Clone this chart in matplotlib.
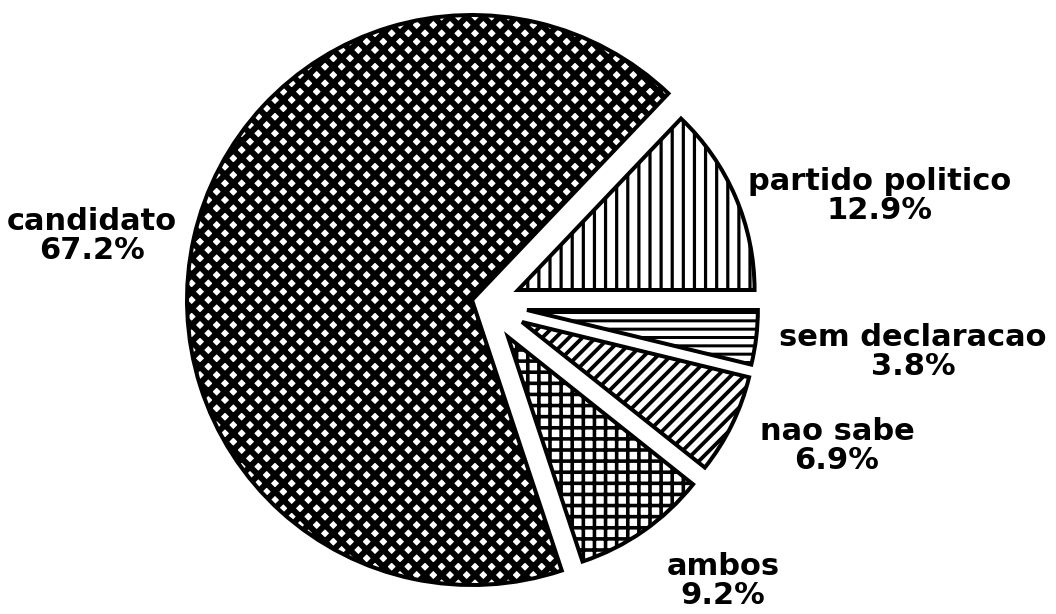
import matplotlib
matplotlib.use('Agg')
import matplotlib.pyplot as plt

# ---- data ----
categories = ['partido politico', 'candidato', 'ambos', 'nao sabe', 'sem declaracao']
shares = [12.9, 67.2, 9.2, 6.9, 3.8]
pct_labels = ['12.9%', '67.2%', '9.2%', '6.9%', '3.8%']

# ---- style ----
DPI = 200
W, H = 1056, 614
PX = 72.0 / DPI  # points per pixel

plt.rcParams['font.family'] = ['DejaVu Sans']
plt.rcParams['hatch.linewidth'] = 4 * PX

fig = plt.figure(figsize=(W / DPI, H / DPI), dpi=DPI)
fig.patch.set_facecolor('white')
ax = fig.add_axes([0, 0, 1, 1])

center = (472, 314)
radius = 285
hatches = ['|||', 'xxxx', '+++', '/////', '----']
hatch_lw_px = [3.2, 6.0, 3.6, 3.8, 3.0]
shift = [(46, 10), (0, 0), (36, -37), (50, -22), (55, -10)]
rscale = [0.83, 1.0, 0.83, 0.82, 0.81]

wedges, _ = ax.pie(shares, startangle=0, counterclock=True, radius=radius,
                   center=center,
                   wedgeprops=dict(facecolor='white', edgecolor='black',
                                   linewidth=4 * PX))
for w, h, lw, (dx, dy), s in zip(wedges, hatches, hatch_lw_px, shift, rscale):
    w.set_hatch(h)
    w.set_center((center[0] + dx, center[1] + dy))
    w.set_radius(radius * s)
    if hasattr(w, 'set_hatch_linewidth'):
        w.set_hatch_linewidth(lw * PX)

# label positions (pixel coords of block centers, image y downwards)
label_pos = [(880, 196), (92, 236), (723, 581), (837, 446), (913, 352)]
for name, pct, (x, y) in zip(categories, pct_labels, label_pos):
    ax.text(x, H - y, f'{name}\n{pct}', ha='center', va='center',
            multialignment='center', fontsize=11, fontweight='bold',
            linespacing=1.0, color='black')

ax.set_xlim(0, W)
ax.set_ylim(0, H)
ax.set_aspect('equal')
ax.axis('off')

fig.savefig('out.png', dpi=DPI, facecolor='white')
